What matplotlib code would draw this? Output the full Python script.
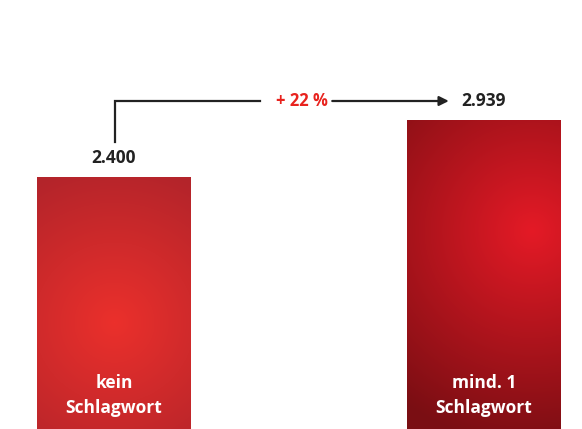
import numpy as np
import matplotlib.pyplot as plt
from matplotlib.colors import LinearSegmentedColormap

categories = ['kein\nSchlagwort', 'mind. 1\nSchlagwort']
values = [2400, 2939]
value_labels = ['2.400', '2.939']
change_label = '+ 22 %'

plt.rcParams['font.family'] = ['Open Sans', 'DejaVu Sans']

fig = plt.figure(figsize=(5.82, 4.29), dpi=100)
ax = fig.add_axes([0, 0, 1, 1])
ax.set_xlim(-0.308, 1.265)
ax.set_ylim(0, 4086)
ax.axis('off')

width = 0.416
x = np.arange(len(values))
bars = ax.bar(x, values, width=width, color='none', edgecolor='none')

# radial gradients: (centre as fraction of bar width/height from bottom-left), centre colour, edge colour, radius px
grads = [
    ((0.50, 0.42), '#eb302c', '#b3242a', 160),
    ((0.81, 0.64), '#e41a26', '#7a0e13', 215),
]

for bar, (c, inner, outer, rad) in zip(bars, grads):
    x0, y0 = bar.get_x(), bar.get_y()
    w, h = bar.get_width(), bar.get_height()
    p0 = ax.transData.transform((x0, y0))
    p1 = ax.transData.transform((x0 + w, y0 + h))
    W = int(abs(p1[0] - p0[0])) + 1
    H = int(abs(p1[1] - p0[1])) + 1
    gx, gy = np.meshgrid(np.arange(W), np.arange(H))
    d = np.sqrt((gx - c[0] * W) ** 2 + (gy - c[1] * H) ** 2) / rad
    cmap = LinearSegmentedColormap.from_list('g', [inner, outer])
    im = ax.imshow(np.clip(d, 0, 1), cmap=cmap, vmin=0, vmax=1, origin='lower',
                   extent=(x0, x0 + w, y0, y0 + h), aspect='auto', interpolation='bilinear')
    im.set_clip_path(bar)

for xi, v, lab in zip(x, values, value_labels):
    ax.text(xi, v + 185, lab, ha='center', va='center', fontsize=12.5,
            fontweight='bold', color='#222222')

for xi, cat in zip(x, categories):
    ax.text(xi, 315, cat, ha='center', va='center', fontsize=12.5,
            fontweight='bold', color='white', linespacing=1.5)

# connector arrow
y_arrow = values[1] + 185
ax.plot([x[0] + 0.003, x[0] + 0.003, 0.395], [2735, y_arrow, y_arrow],
        color='#222222', lw=1.6, solid_joinstyle='miter')
ax.annotate('', xy=(0.905, y_arrow), xytext=(0.59, y_arrow),
            arrowprops=dict(arrowstyle='-|>', color='#222222', lw=1.6,
                            mutation_scale=14, shrinkA=0, shrinkB=0))
ax.text(0.508, y_arrow, change_label, ha='center', va='center', fontsize=12,
        fontweight='bold', color='#e8231e')

fig.savefig('out.png', dpi=100)
